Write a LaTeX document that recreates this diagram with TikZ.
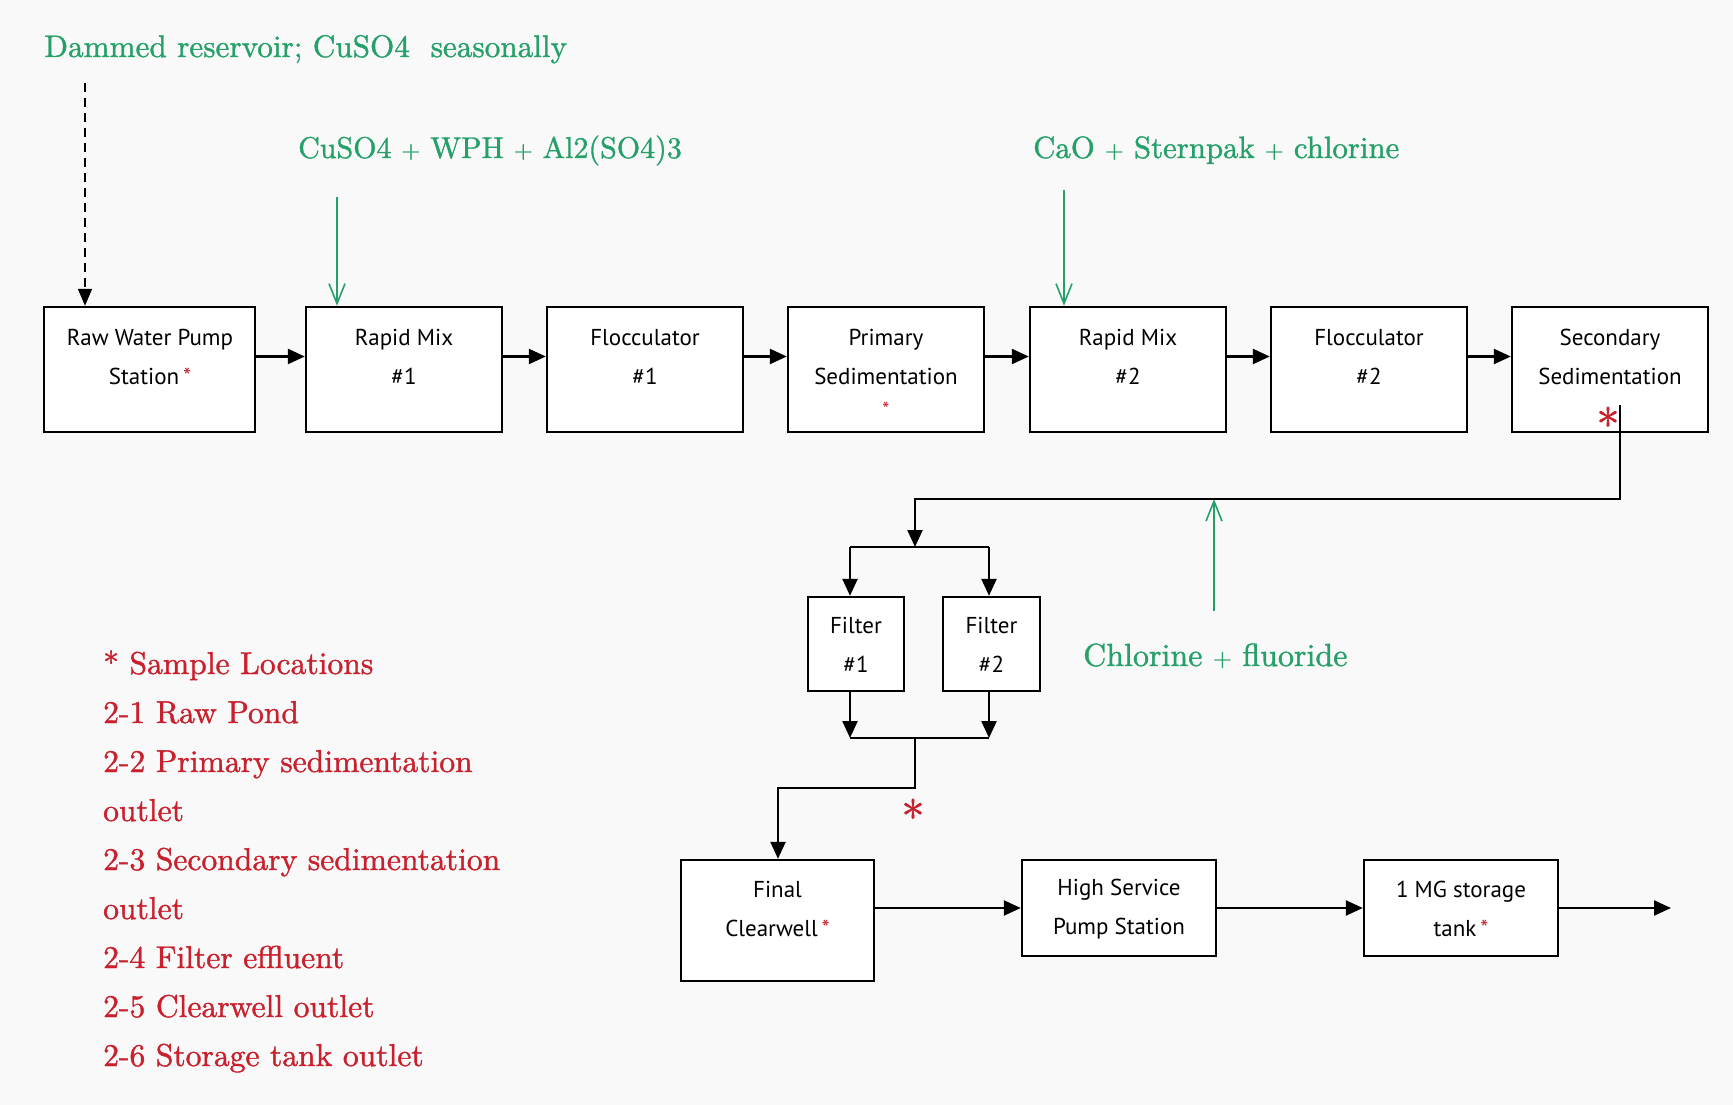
\documentclass[tikz,border=0pt]{standalone}
\usepackage{fontspec}
\newfontfamily\boxfont{PT Sans}
\newfontfamily\notefont{lmroman10-regular.otf}[FakeBold=1.2]
\newcommand\pl{{\fontsize{24}{24}\selectfont+}}
\usetikzlibrary{arrows.meta,calc}
\definecolor{gtext}{RGB}{38,160,105}
\definecolor{rtext}{RGB}{200,32,45}
\definecolor{bg}{RGB}{249,249,249}
\begin{document}
\begin{tikzpicture}[x=1pt,y=-1pt,
  proc/.style={draw=black,line width=2.4pt,fill=white,inner sep=0pt,minimum height=125pt,minimum width=196pt},
  ptext/.style={font=\boxfont\fontsize{23}{39}\selectfont,align=center,inner sep=0pt},
  flow/.style={line width=2.4pt,-{Triangle[length=17pt,width=15pt]}},
  plainline/.style={line width=2.4pt},
  dose/.style={draw=gtext,line width=1.6pt,-{Straight Barb[length=20pt,width=16pt,line width=1.6pt]}},
  gnote/.style={text=gtext,font=\notefont\fontsize{31.2}{40}\selectfont,inner sep=0pt,anchor=base west},
  rnote/.style={text=rtext,font=\notefont\fontsize{31.6}{40}\selectfont,inner sep=0pt,anchor=base west},
  bigstar/.style={text=rtext,font=\notefont\fontsize{46}{46}\selectfont,inner sep=0pt}
]
\fill[bg] (0,0) rectangle (1733,1105);
\useasboundingbox (0,0) rectangle (1733,1105);

% top row
\node[proc,minimum width=211pt] (b1) at (149.5,369.5) {};
\node[proc] (b2) at (404,369.5) {};
\node[proc] (b3) at (645,369.5) {};
\node[proc] (b4) at (886,369.5) {};
\node[proc] (b5) at (1128,369.5) {};
\node[proc] (b6) at (1369,369.5) {};
\node[proc] (b7) at (1610,369.5) {};

\node[ptext] (t1) at (150,357) {Raw Water Pump\\Station\,{\color{rtext}*}};
\node[ptext] (t2) at (404,357) {Rapid Mix\\\#1};
\node[ptext] (t3) at (645,357) {Flocculator\\\#1};
\node[ptext] (t4) at (886,357) {Primary\\Sedimentation};
\node[text=rtext,font=\boxfont\fontsize{20}{20}\selectfont,inner sep=0pt] (t4s) at (886,409) {*};
\node[ptext] (t5) at (1128,357) {Rapid Mix\\\#2};
\node[ptext] (t6) at (1369,357) {Flocculator\\\#2};
\node[ptext] (t7) at (1610,357) {Secondary\\Sedimentation};
\node[bigstar] (s7) at (1608,424) {*};

\foreach \a/\b in {b1/b2,b2/b3,b3/b4,b4/b5,b5/b6,b6/b7}
  \draw[flow] ([yshift=13pt]\a.east) -- ([yshift=13pt]\b.west);

% filters
\node[proc,minimum width=96pt,minimum height=94pt] (f1) at (856,644) {};
\node[proc,minimum width=97pt,minimum height=94pt] (f2) at (991.5,644) {};
\node[ptext] (tf1) at (856,645) {Filter\\\#1};
\node[ptext] (tf2) at (991.5,645) {Filter\\\#2};

% bottom row
\node[proc,minimum width=193pt,minimum height=121pt] (c1) at (777.5,920.5) {};
\node[proc,minimum width=194pt,minimum height=96pt] (c2) at (1119,908) {};
\node[proc,minimum width=194pt,minimum height=96pt] (c3) at (1461,908) {};
\node[ptext] (tc1) at (777.5,909) {Final\\Clearwell\,{\color{rtext}*}};
\node[ptext] (tc2) at (1119,909) {High Service\\Pump Station};
\node[ptext] (tc3) at (1461,909) {1 MG storage\\tank\,{\color{rtext}*}};

% secondary sed to filters
\coordinate (s7o) at (1620,405);
\coordinate (j1) at (1620,499);
\coordinate (j2) at (915,499);
\coordinate (sp) at (915,547);
\draw[flow] (s7o) -- (j1) -- (j2) -- (sp);
\coordinate (spl) at (850,547);
\coordinate (spr) at (989,547);
\draw[plainline] (spl) -- (spr);
\draw[flow] (spl) -- (spl |- f1.north);
\draw[flow] (spr) -- (spr |- f2.north);
\coordinate (jl) at (850,738);
\coordinate (jr) at (989,738);
\draw[flow] (spl |- f1.south) -- (jl);
\draw[flow] (spr |- f2.south) -- (jr);
\draw[plainline] (jl) -- (jr);
\coordinate (jm) at (915,738);
\coordinate (k1) at (915,788);
\coordinate (k2) at (778,788);
\draw[flow] (jm) -- (k1) -- (k2) -- (k2 |- c1.north);
\node[bigstar] (sf) at (913,816) {*};

% bottom flows
\draw[flow] (c1.east |- c2.west) -- (c2.west);
\draw[flow] (c2.east) -- (c3.west);
\coordinate (out) at (1671,908);
\draw[flow] (c3.east) -- (out);

% chemical notes
\node[gnote] (n1) at (44,57) {Dammed reservoir; CuSO4\ \ seasonally};
\node[gnote,font=\notefont\fontsize{30}{40}\selectfont] (n2) at (298,158) {CuSO4 \pl\ WPH \pl\ Al2(SO4)3};
\node[gnote,font=\notefont\fontsize{30.8}{40}\selectfont] (n3) at (1033,158) {CaO \pl\ Sternpak \pl\ chlorine};
\node[gnote,font=\notefont\fontsize{32}{40}\selectfont] (n4) at (1083,666) {Chlorine \pl\ fluoride};

\coordinate (d0) at (85,83);
\draw[line width=1.6pt,dash pattern=on 9pt off 6pt,-{Triangle[length=17pt,width=14pt]}] (d0) -- (d0 |- b1.north);
\coordinate (a1) at (337,197);
\draw[dose] (a1) -- (a1 |- b2.north);
\coordinate (a2) at (1064,190);
\draw[dose] (a2) -- (a2 |- b5.north);
\coordinate (a3) at (1214,611);
\draw[dose] (a3) -- (a3 |- j1);

% legend
\foreach \i/\t in {0/{* Sample Locations},1/{2-1 Raw Pond},2/{2-2 Primary sedimentation},3/{outlet},4/{2-3 Secondary sedimentation},5/{outlet},6/{2-4 Filter effluent},7/{2-5 Clearwell outlet},8/{2-6 Storage tank outlet}}
  \node[rnote] (leg\i) at (103,{674+49*\i}) {\t};
\end{tikzpicture}
\end{document}
